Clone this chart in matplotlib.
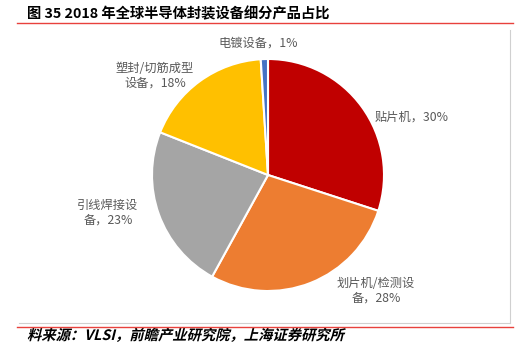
import matplotlib
matplotlib.use("Agg")
import matplotlib.pyplot as plt
from matplotlib.lines import Line2D
from matplotlib.textpath import TextPath
from matplotlib.patches import PathPatch
from matplotlib.font_manager import FontProperties
from matplotlib.transforms import Affine2D

plt.rcParams['font.family'] = ['Noto Sans CJK SC', 'DejaVu Sans']

# data
categories = ["贴片机", "划片机/检测设备", "引线焊接设备", "塑封/切筋成型设备", "电镀设备"]
shares = [30, 28, 23, 18, 1]
colors = ["#C00000", "#ED7D31", "#A5A5A5", "#FFC000", "#4472C4"]
label_texts = ["贴片机，30%", "划片机/检测设\n备，28%", "引线焊接设\n备，23%",
               "塑封/切筋成型\n设备，18%", "电镀设备，1%"]
title = "图 35 2018 年全球半导体封装设备细分产品占比"
source = "料来源：VLSI，前瞻产业研究院，上海证券研究所"

W, H = 530, 355
DPI = 100
fig = plt.figure(figsize=(W / DPI, H / DPI), dpi=DPI)

# pie placement (pixels)
cx, cy, r = 268, 175, 116
ax = fig.add_axes([(cx - r) / W, (H - cy - r) / H, 2 * r / W, 2 * r / H])
ax.pie(shares, colors=colors, startangle=90, counterclock=False,
       wedgeprops=dict(edgecolor="white", linewidth=1.5))
ax.set_xlim(-1, 1)
ax.set_ylim(-1, 1)
ax.set_aspect("equal")
ax.axis("off")

# label positions in pixels (centre of text block)
label_pos = [(412, 117), (376, 291), (108, 213), (155, 76), (258, 43)]
for txt, (px, py) in zip(label_texts, label_pos):
    fig.text(px / W, 1 - py / H, txt, ha="center", va="center",
             fontsize=8.8, color="#595959", linespacing=1.2)

fig.text(27 / W, 1 - 14 / H, title, ha="left", va="center",
         fontsize=10.3, fontweight="bold", color="black")

# source line in slanted bold (no italic CJK font, so skew the glyph path)
fp = FontProperties(family=['Noto Sans CJK SC', 'DejaVu Sans'], weight="bold")
tp = TextPath((0, 0), source, size=10.3, prop=fp)
tr = Affine2D().skew_deg(14, 0).scale(DPI / 72).translate(27, H - 340)
fig.add_artist(PathPatch(tp, transform=tr, facecolor="black", edgecolor="none"))

# rules and frame
def hline(y, x0, x1, color, lw):
    fig.add_artist(Line2D([x0 / W, x1 / W], [1 - y / H, 1 - y / H],
                          color=color, linewidth=lw, transform=fig.transFigure))

hline(23, 17, 513, "#E8413C", 1.0)
hline(327, 17, 513, "#E8413C", 1.0)
hline(323, 19, 510, "#D0D0D0", 0.8)
fig.add_artist(Line2D([510 / W, 510 / W], [1 - 30 / H, 1 - 323 / H],
                      color="#D0D0D0", linewidth=0.8, transform=fig.transFigure))

fig.savefig("out.png", dpi=DPI)
